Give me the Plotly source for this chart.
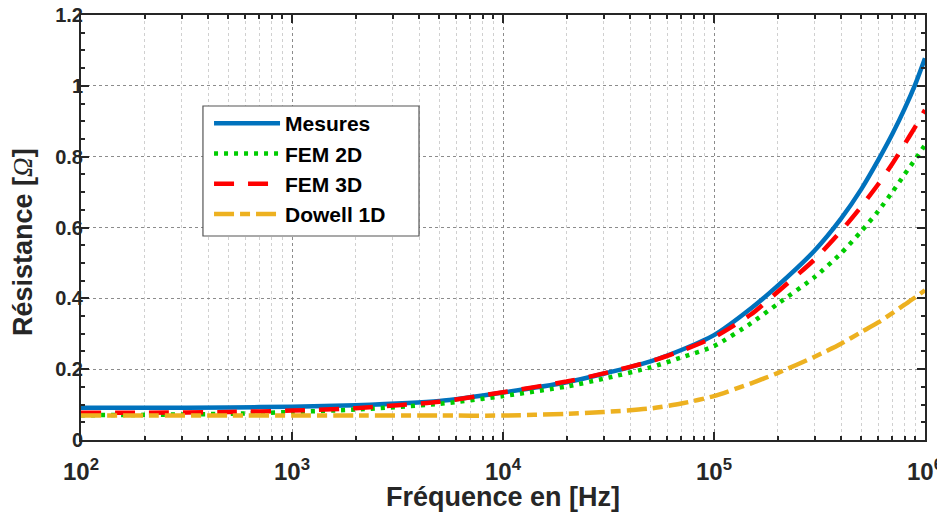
import plotly.graph_objects as go

freq = [1e2, 2e2, 5e2, 1e3, 2e3, 5e3, 1e4, 2e4, 3e4, 5e4, 7e4, 1e5, 1.5e5, 2e5, 3e5, 4e5, 5e5, 6e5, 7e5, 8e5, 9e5, 1e6]
mesures = [0.091, 0.091, 0.092, 0.094, 0.098, 0.110, 0.134, 0.163, 0.187, 0.222, 0.254, 0.296, 0.372, 0.435, 0.535, 0.625, 0.709, 0.790, 0.864, 0.935, 1.005, 1.078]
fem2d = [0.070, 0.071, 0.074, 0.079, 0.086, 0.102, 0.124, 0.151, 0.173, 0.205, 0.233, 0.265, 0.330, 0.384, 0.460, 0.527, 0.590, 0.646, 0.700, 0.750, 0.793, 0.833]
fem3d = [0.077, 0.077, 0.079, 0.083, 0.090, 0.108, 0.135, 0.165, 0.188, 0.222, 0.252, 0.290, 0.355, 0.418, 0.510, 0.590, 0.660, 0.722, 0.780, 0.835, 0.885, 0.932]
dowell = [0.069, 0.069, 0.069, 0.069, 0.069, 0.069, 0.069, 0.074, 0.079, 0.089, 0.103, 0.124, 0.160, 0.189, 0.235, 0.272, 0.305, 0.332, 0.358, 0.382, 0.403, 0.423]

series_names = ["Mesures", "FEM 2D", "FEM 3D", "Dowell 1D"]
x_ticks = [1e2, 1e3, 1e4, 1e5, 1e6]
x_ticklabels = ["10<sup>2</sup>", "10<sup>3</sup>", "10<sup>4</sup>", "10<sup>5</sup>", "10<sup>6</sup>"]
y_ticks = [0, 0.2, 0.4, 0.6, 0.8, 1.0, 1.2]
y_ticklabels = ["0", "0.2", "0.4", "0.6", "0.8", "1", "1.2"]
x_title = "Fréquence en [Hz]"
y_title = "Résistance [<span style='font-family:Liberation Serif;font-weight:normal'><i>Ω</i></span>]"

minor_x = [m * 10 ** k for k in range(2, 6) for m in range(2, 10)]

FONT = "Liberation Sans, Arial, sans-serif"
TXT = "#262626"

fig = go.Figure()
styles = [
    (mesures, "#0072BD", "solid"),
    (fem2d, "#00CC00", "4px,6px"),
    (fem3d, "#FF0000", "20px,14px"),
    (dowell, "#EDB120", "20px,6px,10px,6px"),
]
for name, (vals, col, dash) in zip(series_names, styles):
    fig.add_trace(go.Scatter(
        x=freq, y=vals, name=name, mode="lines",
        line=dict(color=col, width=4.5, dash=dash, shape="spline", smoothing=0.6),
    ))

# the page body adds an 8px offset: size and margins compensate so the
# plot box sits at 81..925 x 15..440 inside the 945x515 window
fig.update_layout(
    width=937, height=507,
    margin=dict(l=73, r=20, t=7, b=75),
    paper_bgcolor="white", plot_bgcolor="white",
    font=dict(family=FONT, color=TXT),
    legend=dict(
        x=0.1517, y=0.793, xanchor="left", yanchor="top",
        bgcolor="rgba(0,0,0,0)", borderwidth=0,
        font=dict(size=21, family=FONT, color="black", weight="bold"),
        itemwidth=66,
    ),
    shapes=[
        dict(type="rect", xref="paper", yref="paper", x0=0.1445, x1=0.4005,
             y0=0.48, y1=0.7859, fillcolor="white",
             line=dict(color="#555555", width=1.2), layer="above"),
    ],
    annotations=[
        dict(text=x_title, xref="paper", yref="paper", x=0.5, y=-0.134,
             xanchor="center", yanchor="middle", showarrow=False,
             font=dict(size=27, family=FONT, color=TXT, weight="bold")),
        dict(text=y_title, xref="paper", yref="paper", x=-0.0687, y=0.466,
             xanchor="center", yanchor="middle", showarrow=False, textangle=-90,
             font=dict(size=27, family=FONT, color=TXT, weight="bold")),
    ],
)

fig.update_xaxes(
    type="log", range=[2, 6], automargin=False, ticklabeloverflow="allow",
    tickmode="array", tickvals=x_ticks, ticktext=x_ticklabels,
    tickfont=dict(size=24, family=FONT, color=TXT, weight="bold"),
    ticklabelstandoff=9,
    ticks="inside", ticklen=8, tickwidth=2, tickcolor=TXT,
    showline=True, linecolor=TXT, linewidth=2, mirror="ticks",
    showgrid=True, gridcolor="#8c8c8c", griddash="dot", gridwidth=1,
    zeroline=False,
    minor=dict(tickmode="array", tickvals=minor_x, ticks="inside", ticklen=4,
               tickwidth=1.5, tickcolor=TXT, showgrid=True,
               gridcolor="#d0d0d0", griddash="dot", gridwidth=1),
)

fig.update_yaxes(
    range=[0, 1.2], automargin=False, ticklabeloverflow="allow",
    tickmode="array", tickvals=y_ticks, ticktext=y_ticklabels,
    tickfont=dict(size=20, family=FONT, color=TXT, weight="bold"),
    ticklabelstandoff=-8,
    ticks="inside", ticklen=8, tickwidth=2, tickcolor=TXT,
    showline=True, linecolor=TXT, linewidth=2, mirror="ticks",
    showgrid=True, gridcolor="#8c8c8c", griddash="dot", gridwidth=1,
    zeroline=False,
    minor=dict(dtick=0.05, ticks="inside", ticklen=4, tickwidth=1.5,
               tickcolor=TXT, showgrid=False),
)

fig.write_html("out.html")
